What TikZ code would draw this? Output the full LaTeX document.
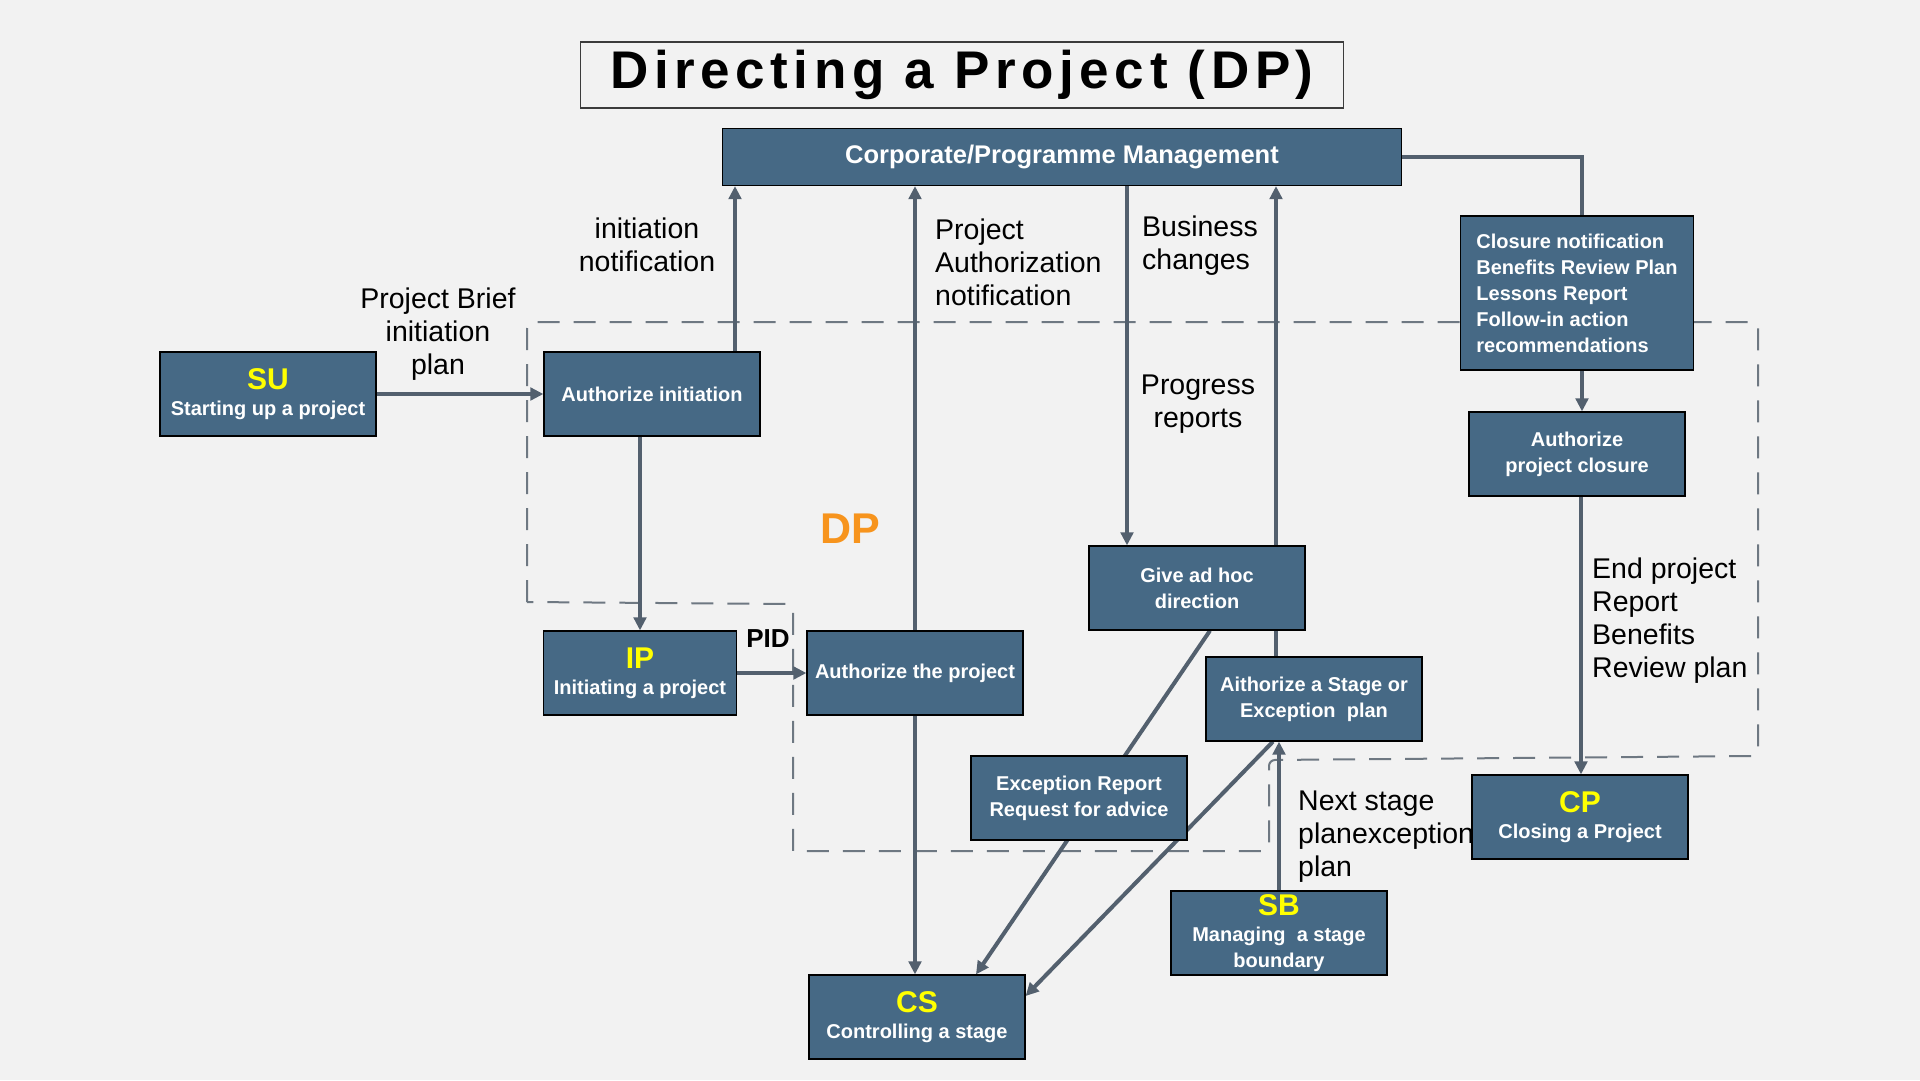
\documentclass[tikz,border=0pt]{standalone}
\usepackage{fontspec}
\setmainfont{Liberation Sans}
\newfontfamily\titlefont[LetterSpace=10.5]{Liberation Sans}
\usetikzlibrary{arrows.meta,calc}
\definecolor{bgc}{RGB}{242,242,242}
\definecolor{boxc}{RGB}{70,105,133}
\definecolor{linec}{RGB}{83,96,110}
\definecolor{dashc}{RGB}{110,120,130}
\definecolor{dporange}{RGB}{247,148,29}
\definecolor{headyellow}{RGB}{255,255,0}
\definecolor{titleb}{RGB}{60,60,60}
\pgfdeclarelayer{backdrop}
\pgfdeclarelayer{bglayer}
\pgfsetlayers{backdrop,bglayer,main}
\begin{document}
\begin{tikzpicture}[x=1pt,y=-1pt,
  box/.style={draw=black, line width=1.2pt, fill=boxc, text=white,
    font=\fontsize{20}{26}\selectfont\bfseries, align=center,
    minimum width=216pt, minimum height=84pt, inner sep=3pt},
  lbl/.style={font=\fontsize{28.5}{33}\selectfont, text=black, inner sep=0pt},
  conn/.style={draw=linec, line width=4pt},
  arr/.style={conn, -{Triangle[length=13pt,width=12.5pt]}},
  region/.style={draw=dashc, line width=2pt, dash pattern=on 22pt off 14pt}]
\newcommand{\hd}[1]{{\color{headyellow}\fontsize{30}{30}\selectfont #1}}
\begin{pgfonlayer}{backdrop}
\fill[bgc] (0,0) rectangle (1920,1080);
\end{pgfonlayer}
\useasboundingbox (0,0) rectangle (1920,1080);

% title
\node[draw=titleb, line width=1.5pt, minimum width=763pt, minimum height=66pt,
  font=\titlefont\bfseries\fontsize{53}{53}\selectfont] (title) at (962,75) {Directing a Project (DP)};

% boxes
\node[box, minimum width=679pt, minimum height=57pt, font=\fontsize{25.5}{30}\selectfont\bfseries] (corp) at (1062,157) {Corporate/Programme Management};
\node[box, align=left, minimum width=233pt, minimum height=154pt] (closure) at (1577,293)
  {Closure notification\\Benefits Review Plan\\Lessons Report\\Follow-in action\\recommendations};
\node[box] (aclose) at (1577,454) {Authorize\\project closure};
\node[box] (su) at (268,394) {\hd{SU}\\Starting up a project};
\node[box] (ainit) at (652,394) {Authorize initiation};
\node[box, minimum width=193pt] (ip) at (640,673) {\hd{IP}\\Initiating a project};
\node[box] (ap) at (915,673) {Authorize the project};
\node[box] (adhoc) at (1197,588) {Give ad hoc\\direction};
\node[box] (stage) at (1314,699) {Aithorize a Stage or\\Exception\ \ plan};
\node[box] (exc) at (1079,798) {Exception Report\\Request for advice};
\node[box, inner sep=1pt] (sb) at (1279,933) {\hd{SB}\\Managing\ \ a stage\\boundary};
\node[box] (cp) at (1580,817) {\hd{CP}\\Closing a Project};
\node[box] (cs) at (917,1017) {\hd{CS}\\Controlling a stage};

% labels
\node[lbl, align=center] (lbrief) at (438,334) {Project Brief\\initiation\\plan};
\node[lbl, align=center] (linit) at (647,245) {initiation\\notification};
\node[lbl, align=left, anchor=west] (lauth) at (935,262) {Project\\Authorization\\notification};
\node[lbl, align=left, anchor=west] (lbus) at (1142,246) {Business\\changes};
\node[lbl, align=center] (lprog) at (1198,404) {Progress\\reports};
\node[font=\fontsize{43}{43}\selectfont\bfseries, text=dporange] (dp) at (850,529) {DP};
\node[font=\fontsize{26}{26}\selectfont\bfseries, inner sep=0pt] (pid) at (768,639) {PID};
\node[lbl, align=left, anchor=west] (lnext) at (1298,837) {Next stage\\planexception\\plan};
\node[lbl, align=left, anchor=west] (lend) at (1592,621) {End project\\Report\\Benefits\\Review plan};

\begin{pgfonlayer}{bglayer}
\draw[region] [rounded corners=6pt] (527,602) -- (527,322) -- (1758,322) -- (1758,756)
  -- (1269,760) -- (1269,851) [sharp corners] -- (793,851) [rounded corners=6pt] -- (793,604) [sharp corners] -- cycle;
\draw[arr] (su.east) -- (ainit.west);
\draw[arr] ([xshift=83pt]ainit.north) -- ([xshift=83pt]ainit.north |- corp.south);
\draw[arr] (ip.north |- ainit.south) -- (ip.north);
\draw[arr] (ip.east) -- (ip.east -| ap.west);
\draw[arr] (ap.north) -- (ap.north |- corp.south);
\draw[arr] (ap.south) -- (ap.south |- cs.north);
\draw[arr] ([xshift=-70pt]adhoc.north |- corp.south) -- ([xshift=-70pt]adhoc.north);
\draw[arr] ([xshift=-38pt]stage.north) -- ([xshift=-38pt]stage.north |- corp.south);
\draw[arr] ([xshift=13pt]adhoc.south) -- ([xshift=59pt]cs.north);
\draw[arr] ([xshift=-41pt]stage.south) -- ([yshift=21pt]cs.east);
\draw[arr] (sb.north) -- (sb.north |- stage.south);
\draw[conn] (corp.east) -| ([xshift=5pt]closure.north);
\draw[arr] ([xshift=5pt]closure.south) -- ([xshift=5pt]aclose.north);
\draw[arr] ([xshift=4pt]aclose.south) -- ([xshift=4pt]aclose.south |- cp.north);
\end{pgfonlayer}
\end{tikzpicture}
\end{document}
